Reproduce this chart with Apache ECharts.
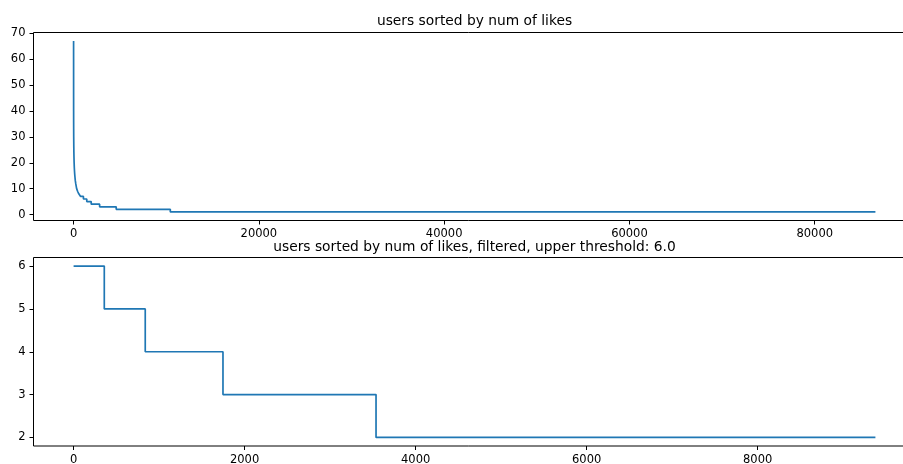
<!DOCTYPE html>
<html>
<head>
<meta charset="utf-8">
<script src="https://cdn.jsdelivr.net/npm/echarts@6/dist/echarts.min.js"></script>
<style>
  html, body { margin: 0; padding: 0; background: #fff; }
  #chart { width: 903px; height: 464px; }
</style>
</head>
<body>
<div id="chart"></div>
<script>
// All users, sorted by number of likes (descending): each run of equal
// like counts is given by the index where it starts and its value.
const allRunStarts = [0, 1, 2, 3, 4, 6, 9, 13, 18, 24, 32, 43, 50, 58, 68, 80, 95,
  112, 135, 160, 190, 230, 280, 330, 430, 560, 760, 1063, 1422, 1901, 2810, 4600, 10440];
const allRunLikes = [67, 60, 52, 45, 40, 36, 33, 30, 28, 26, 24, 22, 21, 20, 19, 18, 17,
  16, 15, 14, 13, 12, 11, 10, 9, 8, 7, 6, 5, 4, 3, 2, 1];
const allUserCount = 86550;

// Users left after filtering (upper threshold 6.0).
const filteredRunStarts = [0, 359, 838, 1747, 3537];
const filteredRunLikes = [6, 5, 4, 3, 2];
const filteredUserCount = 9377;

// Axis ticks.
const topXTicks = [0, 20000, 40000, 60000, 80000];
const topYTicks = [0, 10, 20, 30, 40, 50, 60, 70];
const bottomXTicks = [0, 2000, 4000, 6000, 8000];
const bottomYTicks = [2, 3, 4, 5, 6];

const titleTop = 'users sorted by num of likes';
const titleBottom = 'users sorted by num of likes, filtered, upper threshold: 6.0';

// Build step points: start of every run, plus the end of the last one.
function stepPoints(starts, values, total) {
  const pts = starts.map((s, i) => [s, values[i]]);
  pts.push([total, values[values.length - 1]]);
  return pts;
}

// Axis range padded by 5% of the data span on each side.
function padded(lo, hi) {
  const m = (hi - lo) * 0.05;
  return [lo - m, hi + m];
}

const FONT = 'DejaVu Sans';
const tickFont = { fontFamily: FONT, fontSize: 11.5, color: '#000' };

function axisDef(gridIndex, range, ticks) {
  return {
    type: 'value', gridIndex, min: range[0], max: range[1],
    axisLine: { show: false, onZero: false },
    axisTick: { show: true, length: 4, inside: false, customValues: ticks,
      lineStyle: { color: '#000', width: 1 } },
    axisLabel: Object.assign({ customValues: ticks, margin: 8,
      formatter: v => String(v) }, tickFont),
    splitLine: { show: false }
  };
}

const topX = padded(0, allUserCount);
const topY = padded(Math.min(...allRunLikes), Math.max(...allRunLikes));
const botX = padded(0, filteredUserCount);
const botY = padded(Math.min(...filteredRunLikes), Math.max(...filteredRunLikes));

const chart = echarts.init(document.getElementById('chart'), null, { renderer: 'canvas' });
chart.setOption({
  animation: false,
  backgroundColor: '#fff',
  title: [
    { text: titleTop, left: 469.5, top: 9, textAlign: 'center',
      textStyle: { fontFamily: FONT, fontSize: 13.8, fontWeight: 'normal', color: '#000' } },
    { text: titleBottom, left: 469.5, top: 235, textAlign: 'center',
      textStyle: { fontFamily: FONT, fontSize: 13.8, fontWeight: 'normal', color: '#000' } }
  ],
  grid: [
    { left: 33.5, top: 32.5, width: 882, height: 188, show: true,
      containLabel: false, outerBoundsMode: 'none',
      borderColor: '#000', borderWidth: 1, backgroundColor: 'transparent' },
    { left: 33.5, top: 257.5, width: 882, height: 188.5, show: true,
      containLabel: false, outerBoundsMode: 'none',
      borderColor: '#000', borderWidth: 1, backgroundColor: 'transparent' }
  ],
  xAxis: [axisDef(0, topX, topXTicks), axisDef(1, botX, bottomXTicks)],
  yAxis: [axisDef(0, topY, topYTicks), axisDef(1, botY, bottomYTicks)],
  series: [
    { type: 'line', xAxisIndex: 0, yAxisIndex: 0, step: 'end', showSymbol: false,
      symbol: 'none', lineStyle: { color: '#1f77b4', width: 1.7 },
      data: stepPoints(allRunStarts, allRunLikes, allUserCount) },
    { type: 'line', xAxisIndex: 1, yAxisIndex: 1, step: 'end', showSymbol: false,
      symbol: 'none', lineStyle: { color: '#1f77b4', width: 1.7 },
      data: stepPoints(filteredRunStarts, filteredRunLikes, filteredUserCount) }
  ]
});
</script>
</body>
</html>
